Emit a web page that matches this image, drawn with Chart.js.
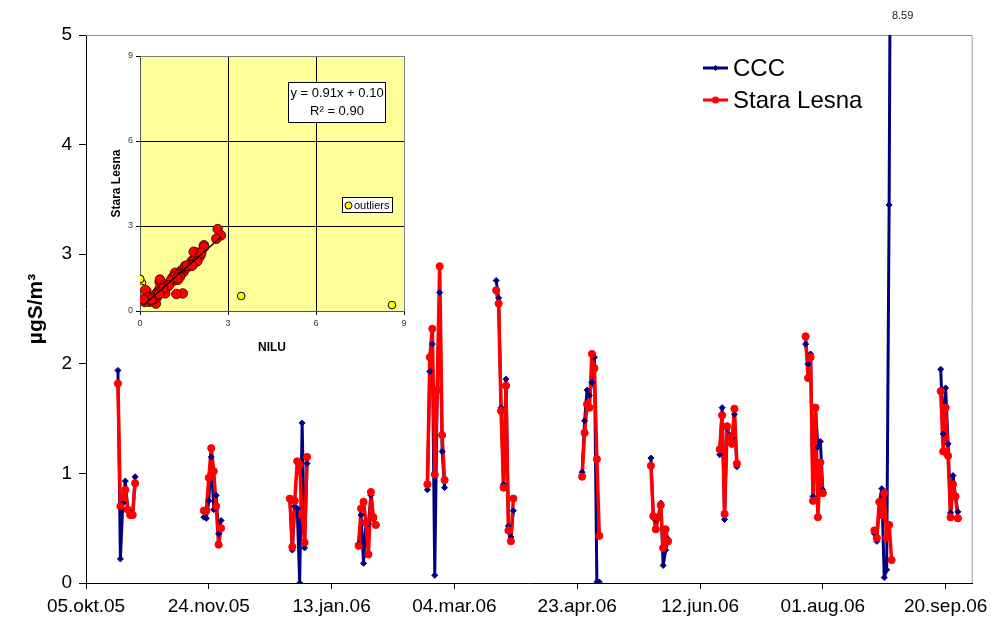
<!DOCTYPE html>
<html>
<head>
<meta charset="utf-8">
<script src="https://cdn.jsdelivr.net/npm/chart.js@4.4.0/dist/chart.umd.min.js"></script>
<style>
  body { margin: 0; background: #fff; }
  #wrap { position: relative; width: 994px; height: 621px; }
  #main { position: absolute; left: 0; top: 0; }
  #inset { position: absolute; left: 88px; top: 36px; }
</style>
</head>
<body>
<div id="wrap">
  <canvas id="main" width="994" height="621"></canvas>
  <canvas id="inset" width="350" height="325"></canvas>
</div>
<script>
const FONT = "'Liberation Sans', Arial, sans-serif";
const START = Date.UTC(2005, 9, 5); // day 0 = 05.okt.05
const MONTHS = ['jan', 'feb', 'mar', 'apr', 'mai', 'jun', 'jul', 'aug', 'sep', 'okt', 'nov', 'des'];

// days since 05.10.2005, one row per campaign
const dayNo = [
  13, 14, 15, 16, 17, 18, 19, 20,
  48, 49, 50, 51, 52, 53, 54, 55,
  83, 84, 85, 86, 87, 88, 89, 90,
  111, 112, 113, 114, 115, 116, 117, 118,
  139, 140, 141, 142, 143, 144, 145, 146,
  167, 168, 169, 170, 171, 172, 173, 174,
  202, 203, 204, 205, 206, 207, 208, 209,
  230, 231, 232, 233, 234, 235, 236, 237,
  258, 259, 260, 261, 262, 263, 264, 265,
  293, 294, 295, 296, 297, 298, 299, 300,
  321, 322, 323, 324, 325, 326, 327, 328,
  348, 349, 350, 351, 352, 353, 354, 355
];

const ccc = [
  1.94, 0.22, 0.73, 0.93, 0.68, 0.65, 0.62, 0.97,
  0.60, 0.59, 0.75, 1.15, 0.67, 0.80, 0.45, 0.57,
  0.76, 0.30, 0.70, 0.68, 0.00, 1.46, 0.32, 1.09,
  0.36, 0.62, 0.18, 0.56, 0.54, 0.80, 0.58, 0.53,
  0.85, 1.93, 2.18, 0.07, 1.76, 2.65, 1.20, 0.87,
  2.76, 2.60, 1.60, 0.90, 1.86, 0.52, 0.42, 0.66,
  1.01, 1.48, 1.76, 1.71, 1.83, 2.06, 0.01, 0.01,
  1.14, 0.60, 0.58, 0.60, 0.73, 0.16, 0.30, 0.40,
  1.17, 1.60, 0.58, 1.41, 1.35, 1.32, 1.54, 1.06,
  2.18, 2.00, 2.09, 0.79, 1.60, 1.24, 1.29, 0.85,
  0.45, 0.38, 0.73, 0.86, 0.05, 0.12, 3.45, 8.59,
  1.95, 1.36, 1.78, 1.27, 0.64, 0.98, 0.79, 0.65
];

const staraLesna = [
  1.82, 0.70, 0.78, 0.85, 0.67, 0.62, 0.62, 0.91,
  0.66, 0.66, 0.96, 1.23, 1.02, 0.70, 0.35, 0.50,
  0.77, 0.33, 0.75, 1.11, 1.08, 0.62, 0.37, 1.15,
  0.34, 0.68, 0.74, 0.55, 0.26, 0.83, 0.60, 0.53,
  0.90, 2.06, 2.32, 0.99, 1.76, 2.89, 1.35, 0.94,
  2.67, 2.55, 1.57, 0.87, 1.80, 0.48, 0.38, 0.77,
  0.97, 1.37, 1.63, 1.60, 2.09, 1.96, 1.13, 0.43,
  1.07, 0.61, 0.49, 0.60, 0.71, 0.32, 0.49, 0.38,
  1.22, 1.53, 0.63, 1.43, 1.33, 1.27, 1.59, 1.09,
  2.25, 1.87, 2.06, 0.75, 1.60, 0.60, 1.10, 0.82,
  0.48, 0.41, 0.74, 0.62, 0.82, 0.41, 0.53, 0.21,
  1.75, 1.20, 1.60, 1.16, 0.60, 0.90, 0.79, 0.59
];

const yTicks = [0, 1, 2, 3, 4, 5];
const insetTicks = [0, 3, 6, 9];

// regression shown in the inset
const SLOPE = 0.91, INTERCEPT = 0.10, R2 = 0.90;
const OUT_LOW = 0.1, OUT_HIGH = 3; // NILU values treated as outliers

const NAVY = '#000080', RED = '#ff0000';

function dayLabel(v) {
  const d = new Date(START + v * 86400000);
  return String(d.getUTCDate()).padStart(2, '0') + '.' + MONTHS[d.getUTCMonth()] + '.' +
    String(d.getUTCFullYear()).slice(2);
}

// null between campaigns so the lines break
function series(vals) {
  const pts = [];
  dayNo.forEach((d, i) => {
    if (i > 0 && d - dayNo[i - 1] > 1) pts.push({x: d - 1, y: null});
    pts.push({x: d, y: vals[i]});
  });
  return pts;
}

const cccPts = series(ccc);
const slPts = series(staraLesna);

const frame = {
  id: 'frame',
  beforeDatasetsDraw(chart) {
    const {ctx, chartArea: a} = chart;
    ctx.save();
    ctx.strokeStyle = '#9a9a9a';
    ctx.lineWidth = 1;
    ctx.beginPath();
    ctx.moveTo(a.left, a.top + 0.5);
    ctx.lineTo(a.right - 0.5, a.top + 0.5);
    ctx.lineTo(a.right - 0.5, a.bottom);
    ctx.stroke();
    ctx.restore();
  },
  afterDatasetsDraw(chart) {
    const {ctx, scales} = chart;
    // value label for the clipped CCC peak
    const yMax = scales.y.max;
    ccc.forEach((v, i) => {
      if (v > yMax) {
        const x = scales.x.getPixelForValue(dayNo[i]);
        ctx.save();
        ctx.font = '11px ' + FONT;
        ctx.fillStyle = '#222';
        ctx.textAlign = 'center';
        ctx.textBaseline = 'middle';
        ctx.fillText(v.toFixed(2), x + 11, 16);
        ctx.restore();
      }
    });
    // legend, top right inside plot
    const items = [chart.data.datasets[2], chart.data.datasets[3]];
    items.forEach((ds, k) => {
      const y = 68 + k * 32;
      ctx.save();
      ctx.strokeStyle = ds.borderColor;
      ctx.lineWidth = 3;
      ctx.beginPath();
      ctx.moveTo(703, y);
      ctx.lineTo(728, y);
      ctx.stroke();
      ctx.fillStyle = ds.borderColor;
      ctx.beginPath();
      if (ds.pointStyle === 'rectRot') {
        ctx.moveTo(715.5, y - 3); ctx.lineTo(718.5, y); ctx.lineTo(715.5, y + 3); ctx.lineTo(712.5, y);
      } else {
        ctx.arc(715.5, y, 3.5, 0, Math.PI * 2);
      }
      ctx.fill();
      ctx.fillStyle = '#000';
      ctx.font = '24px ' + FONT;
      ctx.textBaseline = 'middle';
      ctx.fillText(ds.label, 733, y + 1);
      ctx.restore();
    });
  }
};

new Chart(document.getElementById('main'), {
  type: 'line',
  data: {
    datasets: [
      {label: 'CCC', data: cccPts, borderColor: NAVY, borderWidth: 3, pointRadius: 0,
        borderJoinStyle: 'round', borderCapStyle: 'round', order: 4},
      {label: 'Stara Lesna', data: slPts, borderColor: RED, borderWidth: 3.5, pointRadius: 0,
        borderJoinStyle: 'round', borderCapStyle: 'round', order: 3},
      {label: 'CCC', data: cccPts, showLine: false, pointStyle: 'rectRot', pointRadius: 3,
        backgroundColor: NAVY, borderColor: NAVY, borderWidth: 1, order: 2},
      {label: 'Stara Lesna', data: slPts, showLine: false, pointStyle: 'circle', pointRadius: 3.6,
        backgroundColor: RED, borderColor: RED, borderWidth: 1, order: 1}
    ]
  },
  options: {
    responsive: false,
    animation: false,
    layout: {padding: {left: 20, top: 35, right: 21, bottom: 0}},
    plugins: {legend: {display: false}, tooltip: {enabled: false}},
    scales: {
      x: {
        type: 'linear', min: 0, max: 361,
        afterFit: s => { s.height = 38; },
        border: {color: '#000', width: 1},
        grid: {drawOnChartArea: false, tickLength: 6, color: '#000'},
        ticks: {
          stepSize: 50, includeBounds: false, maxRotation: 0, autoSkip: false, padding: 6,
          color: '#000', font: {family: FONT, size: 19}, callback: v => dayLabel(v)
        }
      },
      y: {
        min: 0, max: 5,
        afterFit: s => { s.width = 66; },
        afterBuildTicks: s => { s.ticks = yTicks.map(v => ({value: v})); },
        border: {color: '#000', width: 1},
        grid: {drawOnChartArea: false, tickLength: 7, color: '#000'},
        ticks: {padding: 7, color: '#000', font: {family: FONT, size: 19}},
        title: {display: true, text: 'µgS/m³', color: '#000',
          font: {family: FONT, size: 21, weight: 'bold'}, padding: {top: 4, bottom: 0}}
      }
    }
  },
  plugins: [frame]
});

// ---- inset scatter: Stara Lesna vs NILU ----
const pairsRed = [], pairsOut = [];
ccc.forEach((c, i) => {
  const p = {x: c, y: staraLesna[i]};
  if (c < OUT_LOW || c > OUT_HIGH) pairsOut.push(p); else pairsRed.push(p);
});
const xs = pairsRed.map(p => p.x);
const x0 = Math.min(...xs), x1 = Math.max(...xs);
const trend = [{x: x0, y: SLOPE * x0 + INTERCEPT}, {x: x1, y: SLOPE * x1 + INTERCEPT}];

const insetDeco = {
  id: 'insetDeco',
  beforeDraw(chart) {
    const {ctx, chartArea: a} = chart;
    ctx.save();
    ctx.fillStyle = '#ffff99';
    ctx.fillRect(a.left, a.top, a.right - a.left, a.bottom - a.top);
    ctx.restore();
  },
  afterDraw(chart) {
    const {ctx, chartArea: a} = chart;
    ctx.save();
    // equation box
    let bx = a.left + 148, by = a.top + 26;
    ctx.fillStyle = '#fff';
    ctx.fillRect(bx, by, 98, 41);
    ctx.strokeStyle = '#000';
    ctx.lineWidth = 1;
    ctx.strokeRect(bx + 0.5, by + 0.5, 97, 40);
    ctx.fillStyle = '#000';
    ctx.font = '13px ' + FONT;
    ctx.textAlign = 'center';
    ctx.textBaseline = 'middle';
    ctx.fillText('y = ' + SLOPE.toFixed(2) + 'x + ' + INTERCEPT.toFixed(2), bx + 49, by + 11);
    ctx.fillText('R² = ' + R2.toFixed(2), bx + 49, by + 29);
    // outliers legend
    bx = a.left + 202; by = a.top + 141;
    ctx.fillStyle = '#fff';
    ctx.fillRect(bx, by, 51, 16);
    ctx.strokeRect(bx + 0.5, by + 0.5, 50, 15);
    ctx.beginPath();
    ctx.arc(bx + 6.5, by + 8.5, 3.5, 0, Math.PI * 2);
    ctx.fillStyle = '#ffff00';
    ctx.fill();
    ctx.stroke();
    ctx.fillStyle = '#000';
    ctx.font = '11px ' + FONT;
    ctx.textAlign = 'left';
    ctx.fillText(chart.data.datasets[2].label, bx + 12, by + 8.5);
    ctx.restore();
  }
};

const gridCol = c => (c.tick && c.tick.value === 9 ? '#808080' : '#000');

new Chart(document.getElementById('inset'), {
  type: 'scatter',
  data: {
    datasets: [
      {type: 'line', label: 'trend', data: trend, borderColor: '#000', borderWidth: 1.5, pointRadius: 0, order: 0},
      {label: 'Stara Lesna', data: pairsRed, backgroundColor: RED, borderColor: '#3a0000',
        borderWidth: 0.8, pointRadius: 4.8, order: 1},
      {label: 'outliers', data: pairsOut, backgroundColor: '#ffff00', borderColor: '#000',
        borderWidth: 1, pointRadius: 3.8, order: 2}
    ]
  },
  options: {
    responsive: false,
    animation: false,
    layout: {padding: {left: 0, top: 20, right: 34, bottom: 0}},
    plugins: {legend: {display: false}, tooltip: {enabled: false}},
    scales: {
      x: {
        type: 'linear', min: 0, max: 9,
        afterFit: s => { s.height = 50; },
        afterBuildTicks: s => { s.ticks = insetTicks.map(v => ({value: v})); },
        border: {color: '#555'},
        grid: {color: gridCol, tickLength: 4, tickColor: '#000'},
        ticks: {padding: 3, color: '#333', font: {family: FONT, size: 9}},
        title: {display: true, text: 'NILU', color: '#000',
          font: {family: FONT, size: 12, weight: 'bold'}, padding: {top: 0, bottom: 6}}
      },
      y: {
        min: 0, max: 9,
        afterFit: s => { s.width = 52; },
        afterBuildTicks: s => { s.ticks = insetTicks.map(v => ({value: v})); },
        border: {color: '#555'},
        grid: {color: gridCol, tickLength: 4, tickColor: '#000'},
        ticks: {padding: 3, color: '#333', font: {family: FONT, size: 9}},
        title: {display: true, text: 'Stara Lesna', color: '#000',
          font: {family: FONT, size: 12, weight: 'bold'}, padding: {top: 21, bottom: 0}}
      }
    }
  },
  plugins: [insetDeco]
});
</script>
</body>
</html>
